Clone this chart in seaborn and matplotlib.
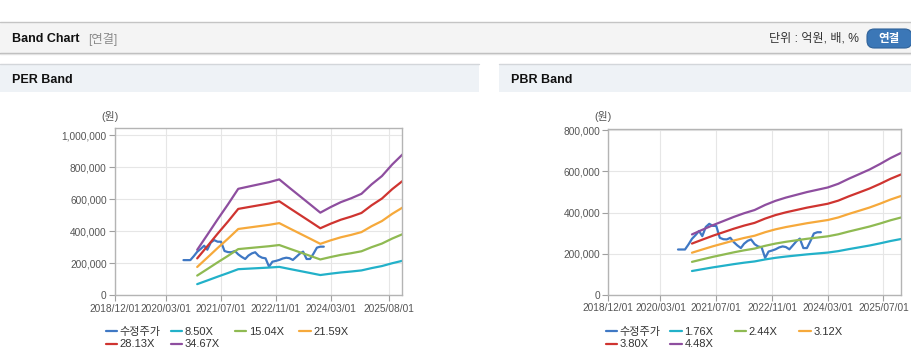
import pandas as pd
import numpy as np
import seaborn as sns
import matplotlib.pyplot as plt
import matplotlib.dates as mdates
from matplotlib.lines import Line2D
from matplotlib.patches import Rectangle, FancyBboxPatch
from matplotlib.ticker import FuncFormatter

# ---- data ----
# adjusted share price (won), monthly from 2020-08
price_dates = pd.date_range("2020-08-01", periods=42, freq="MS")
price = [220, 220, 220, 245, 272, 290, 310, 285, 330, 345, 335, 335, 277, 270,
         269, 277, 256, 240, 227, 248, 262, 269, 246, 235, 231, 179, 210, 215,
         221, 230, 235, 232, 221, 240, 260, 273, 227, 227, 260, 298, 304, 304]
price = [v * 1000 for v in price]

# band base values (EPS / BPS, thousand won), quarterly from 2020-12
band_dates = pd.date_range("2020-12-01", "2025-12-01", freq="3MS")
eps = [8.2, 10.9, 13.7, 16.4, 19.2, 19.6, 20.0, 20.4, 20.9, 19.4, 17.9, 16.4,
       14.9, 15.9, 16.8, 17.5, 18.3, 20.0, 21.5, 23.6, 25.4]
bps = [65.5, 70.5, 75.5, 80.0, 84.5, 88.5, 92.0, 97.5, 102.0, 105.5, 108.5,
       111.5, 114.0, 116.5, 120.5, 126.0, 131.0, 136.0, 142.0, 148.5, 154.0]
per_multiples = [8.50, 15.04, 21.59, 28.13, 34.67]
pbr_multiples = [1.76, 2.44, 3.12, 3.80, 4.48]

per_ticks = ["2018-12-01", "2020-03-01", "2021-07-01", "2022-11-01", "2024-03-01", "2025-08-01"]
pbr_ticks = ["2018-12-01", "2020-03-01", "2021-07-01", "2022-11-01", "2024-03-01", "2025-07-01"]

colors = ["#3f78c4", "#22b1c9", "#8fba52", "#f6a93b", "#cf3430", "#8e4e9f"]
price_label = "수정주가"


def build_frame(base, multiples):
    rows = [pd.DataFrame({"date": price_dates, "value": price, "series": price_label})]
    for m in multiples:
        rows.append(pd.DataFrame({"date": band_dates,
                                  "value": [b * 1000 * m for b in base],
                                  "series": f"{m:.2f}X"}))
    return pd.concat(rows, ignore_index=True)


per_df = build_frame(eps, per_multiples)
pbr_df = build_frame(bps, pbr_multiples)

sns.set_theme(style="whitegrid")
plt.rcParams["font.family"] = ["Liberation Sans", "Noto Sans CJK KR", "DejaVu Sans"]

W, H = 912, 364
fig = plt.figure(figsize=(W / 100, H / 100), dpi=100)
fig.patch.set_facecolor("white")


def fx(px):
    return px / W


def fy(py):
    return 1 - py / H


def hline(y, x0, x1, color, lw=1.0):
    fig.add_artist(Line2D([fx(x0), fx(x1)], [fy(y), fy(y)], transform=fig.transFigure,
                          color=color, lw=lw))


def box(x0, y0, x1, y1, color, ec="none"):
    fig.add_artist(Rectangle((fx(x0), fy(y1)), fx(x1) - fx(x0), (y1 - y0) / H,
                             transform=fig.transFigure, facecolor=color, edgecolor=ec, lw=0.8))


# page header
box(0, 22, W, 53, "#f4f4f4")
hline(22, 0, W, "#c4c4c4")
hline(53, 0, W, "#b8b8b8")
hline(54.2, 0, W, "#e2e2e2")
fig.text(fx(12), fy(39), "Band Chart", fontsize=9, weight="bold", color="#111111", va="center")
fig.text(fx(88), fy(39), "[연결]", fontsize=8.8, color="#8a8a8a", va="center")
fig.text(fx(859), fy(38.5), "단위 : 억원, 배, %", fontsize=8.7, color="#333333", va="center", ha="right")
fig.add_artist(FancyBboxPatch((fx(867), fy(48)), fx(912) - fx(867), 19 / H,
                              boxstyle="round,pad=0,rounding_size=0.008",
                              transform=fig.transFigure, facecolor="#3b77b7",
                              edgecolor="#2f6299", lw=0.8, mutation_aspect=2.5))
fig.text(fx(889), fy(39), "연결", fontsize=8.3, weight="bold", color="white", va="center", ha="center")

# panel headers
for x0, x1, title in [(0, 479, "PER Band"), (499, W, "PBR Band")]:
    box(x0, 64, x1, 92, "#eef2f6")
    hline(64, x0, x1, "#d3d6da")
    fig.text(fx(x0 + 12), fy(80), title, fontsize=9, weight="bold", color="#111111", va="center")

ax1 = fig.add_axes([fx(115), fy(295.3), fx(402.5) - fx(115), (295.3 - 128.3) / H])
ax2 = fig.add_axes([fx(608.3), fy(294.7), fx(901) - fx(608.3), (294.7 - 128.7) / H])

panels = [
    (ax1, per_df, per_multiples, per_ticks, 1044000, 200000, 110, 108),
    (ax2, pbr_df, pbr_multiples, pbr_ticks, 808000, 200000, 603, 608),
]

for ax, df, mults, ticks, ymax, ystep, unit_x, leg_x in panels:
    order = [price_label] + [f"{m:.2f}X" for m in mults]
    palette = dict(zip(order, colors))
    sns.lineplot(data=df, x="date", y="value", hue="series", hue_order=order,
                 palette=palette, linewidth=1.6, ax=ax, estimator=None)
    handles, labels = ax.get_legend_handles_labels()
    ax.get_legend().remove()

    ax.set_facecolor("white")
    ax.set_xlim(pd.Timestamp("2018-12-01"), pd.Timestamp("2025-12-01"))
    ax.set_ylim(0, ymax)
    ax.set_xticks(pd.to_datetime(ticks))
    ax.xaxis.set_major_formatter(mdates.DateFormatter("%Y/%m/%d"))
    ax.set_yticks(np.arange(0, ymax, ystep))
    ax.yaxis.set_major_formatter(FuncFormatter(lambda v, p: f"{int(v):,}"))
    ax.set_xlabel("")
    ax.set_ylabel("")
    ax.grid(True, color="#e6e6e6", lw=0.8)
    for s in ax.spines.values():
        s.set_color("#b4b4b4")
        s.set_linewidth(1.0)
    ax.tick_params(axis="both", which="major", direction="out", length=4, width=0.8,
                   color="#a0a0a0", labelcolor="#555555", labelsize=7.3, pad=2,
                   bottom=True, left=True)
    fig.text(fx(unit_x), fy(117), "(원)", fontsize=7.8, color="#555555", ha="center", va="center")

    # legend: 4 columns x 2 rows, read row by row
    for j in range(4):
        idx = [j] + ([j + 4] if j + 4 < len(handles) else [])
        fig.legend([handles[i] for i in idx], [labels[i] for i in idx],
                   loc="upper left", bbox_to_anchor=(fx(leg_x + j * 64.5 - 2), fy(327)),
                   frameon=False, fontsize=8, handlelength=1.0, handletextpad=0.25,
                   labelspacing=0.22, borderpad=0, borderaxespad=0,
                   labelcolor="#333333")

fig.savefig("out.png", dpi=100, facecolor="white")
